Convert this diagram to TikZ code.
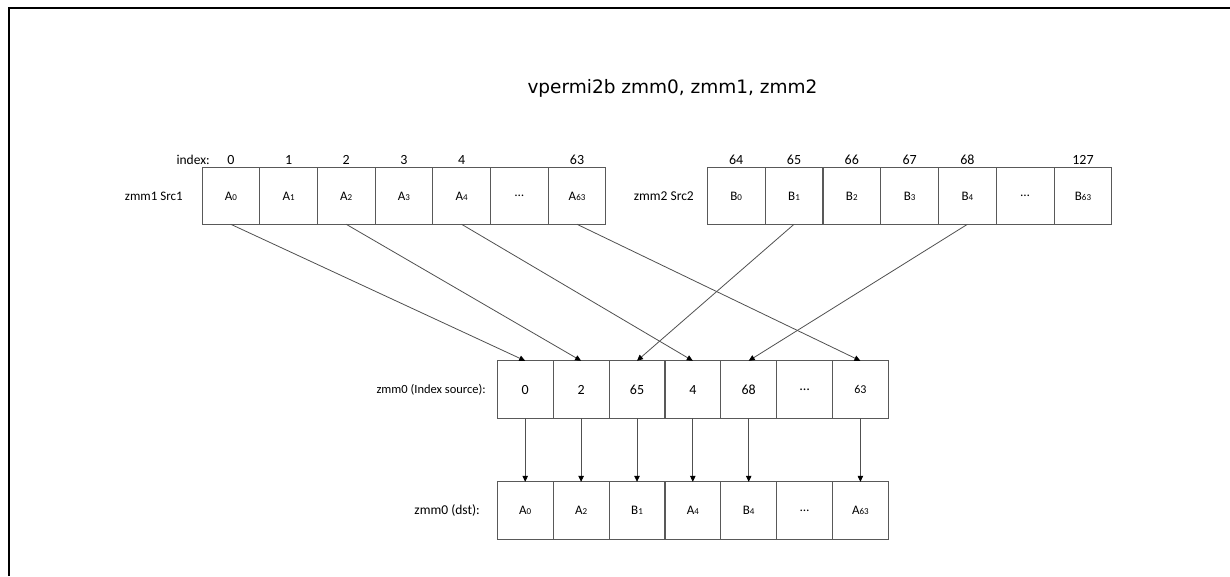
\documentclass[tikz,border=0pt]{standalone}
\usepackage{fontspec}
\setmainfont{Carlito}
\newfontfamily\titlefont{DejaVu Sans}
\usetikzlibrary{arrows.meta}
\definecolor{boxc}{HTML}{595959}
\definecolor{arrc}{HTML}{505050}
\newcommand\dg[1]{{\fontsize{9}{9}\selectfont #1}}
\begin{document}
\begin{tikzpicture}[x=1pt,y=-1pt,
 cell/.style={draw=boxc, line width=0.9pt, minimum width=57.7pt, minimum height=56.6pt, inner sep=0pt, outer sep=0pt, font=\fontsize{13}{14}\selectfont},
 mcell/.style={cell, minimum width=55.9pt, minimum height=57.4pt},
 lbl/.style={font=\fontsize{13.5}{15}\selectfont, inner sep=0pt, anchor=east},
 idx/.style={font=\fontsize{14}{15}\selectfont, inner sep=0pt},
 arr/.style={draw=arrc, line width=0.8pt, -{Triangle[length=6pt,width=5.5pt,color=black]}},
]
\useasboundingbox (0,0) rectangle (1230,576);
\fill[white] (0,0) rectangle (1230,576);
% frame
\draw[line width=2pt] (8.5,576) -- (8.5,7.5) -- (1232,7.5);
% title
\node[font=\titlefont\fontsize{18.5}{20}\selectfont, inner sep=0pt] (title) at (672.5,88) {vpermi2b zmm0, zmm1, zmm2};
% labels
\node[lbl] (idxlbl) at (210,160) {index:};
\node[lbl, font=\fontsize{13}{14}\selectfont] (src1) at (183,196) {zmm1 Src1};
\node[lbl] (src2) at (694,196) {zmm2 Src2};
\node[lbl, font=\fontsize{12.5}{14}\selectfont] (isrc) at (486,389.5) {zmm0 (Index source):};
\node[lbl] (dst) at (480,510.5) {zmm0 (dst):};
% source 1
\foreach \n/\x/\t/\i in {0/230.85/A\dg{0}/0, 1/288.55/A\dg{1}/1, 2/346.25/A\dg{2}/2, 3/403.95/A\dg{3}/3, 4/461.65/A\dg{4}/4, 5/519.35/\dots/, 6/577.05/A\dg{63}/63}{
  \node[cell] (A\n) at (\x,196) {\t};
  \node[idx] (AI\n) at (\x,160) {\i};
}
% source 2
\foreach \n/\x/\t/\i in {0/736.2/B\dg{0}/64, 1/794.0/B\dg{1}/65, 2/851.8/B\dg{2}/66, 3/909.6/B\dg{3}/67, 4/967.4/B\dg{4}/68, 5/1025.2/\dots/, 6/1083.0/B\dg{63}/127}{
  \node[cell] (B\n) at (\x,196) {\t};
  \node[idx] (BI\n) at (\x,160) {\i};
}
% index source
\foreach \n/\x/\t in {0/525.2/0, 1/581.1/2, 2/637.0/65, 3/692.8/4, 4/748.7/68, 5/804.6/\dots, 6/860.4/{\fontsize{12}{13}\selectfont 63}}{
  \node[mcell, font=\fontsize{14}{15}\selectfont] (M\n) at (\x,389.5) {\t};
}
% destination
\foreach \n/\x/\t in {0/525.2/A\dg{0}, 1/581.1/A\dg{2}, 2/637.0/B\dg{1}, 3/692.8/A\dg{4}, 4/748.7/B\dg{4}, 5/804.6/\dots, 6/860.4/A\dg{63}}{
  \node[mcell] (D\n) at (\x,510.5) {\t};
}
% permutation arrows
\draw[arr] (A0.south) -- (M0.north);
\draw[arr] (A2.south) -- (M1.north);
\draw[arr] (B1.south) -- (M2.north);
\draw[arr] (A4.south) -- (M3.north);
\draw[arr] (B4.south) -- (M4.north);
\draw[arr] (A6.south) -- (M6.north);
% result arrows
\foreach \n in {0,1,2,3,4,6}{
  \draw[arr] (M\n.south) -- (D\n.north);
}
\end{tikzpicture}
\end{document}
